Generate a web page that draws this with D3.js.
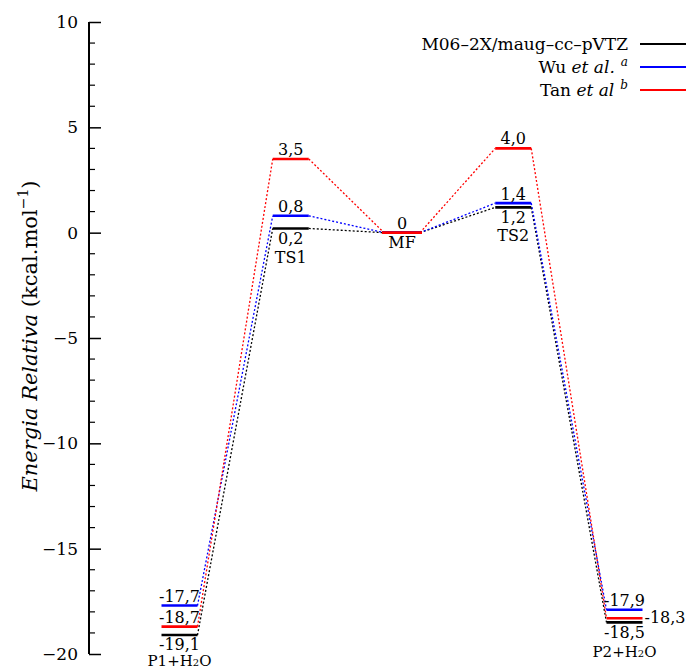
<!DOCTYPE html>
<html>
<head>
<meta charset="utf-8">
<script src="https://cdn.jsdelivr.net/npm/d3@7"></script>
<style>
  body { margin: 0; background: #fff; }
  svg text { font-family: "DejaVu Serif", "Liberation Serif", serif; fill: #000; }
</style>
</head>
<body>
<div id="chart"></div>
<script>
// states along the reaction path
let states = ["P1", "TS1", "MF", "TS2", "P2"];
let methods = ["M06-2X/maug-cc-pVTZ", "Wu et al.", "Tan et al"];
let colors = ["#000000", "#0000ff", "#ff0000"];

let eBlack = [-19.1, 0.2, 0, 1.2, -18.5];
let eBlue = [-17.7, 0.8, 0, 1.4, -17.9];
let eRed = [-18.7, 3.5, 0, 4.0, -18.3];

let yTicks = [-20, -15, -10, -5, 0, 5, 10];

let width = 686, height = 669;

let svg = d3.select("#chart").append("svg").attr("width", width).attr("height", height);

let yScale = d3.scaleLinear().domain([-20, 10]).range([654, 22]);
let xScale = d3.scaleLinear().domain([0, 4]).range([179.5, 624.5]);
let halfW = 18;

// y axis, ticks pointing inward
let axisX = 89;
let yAxis = d3.axisRight(yScale).tickValues(yTicks).tickSize(12).tickFormat("");
let axisG = svg.append("g").attr("transform", "translate(" + axisX + ",0)").call(yAxis);
axisG.select(".domain").attr("d", "M0," + yScale(-20) + "V" + yScale(10)).attr("stroke-width", 2);
axisG.selectAll(".tick line").attr("stroke-width", 1.5);

let minor = d3.range(-20, 11).filter(v => v % 5 != 0);
svg.append("g").selectAll("line").data(minor).enter().append("line")
  .attr("x1", axisX).attr("x2", axisX + 6)
  .attr("y1", d => yScale(d)).attr("y2", d => yScale(d))
  .attr("stroke", "#000").attr("stroke-width", 1.2);

svg.append("g").selectAll("text").data(yTicks).enter().append("text")
  .attr("x", axisX - 11).attr("y", d => yScale(d) + 6)
  .attr("text-anchor", "end").attr("font-size", 17)
  .text(d => d < 0 ? "\u2212" + Math.abs(d) : d);

// y label
let yLab = svg.append("text")
  .attr("transform", "translate(37," + 336 + ")rotate(-90)")
  .attr("text-anchor", "middle").attr("font-size", 21);
yLab.append("tspan").attr("font-style", "italic").text("Energia Relativa");
yLab.append("tspan").text(" (kcal.mol");
yLab.append("tspan").attr("font-size", 14).attr("dy", -9).text("\u22121");
yLab.append("tspan").attr("dy", 9).text(")");

let series = [eBlack, eBlue, eRed];

// dotted connectors
series.forEach((e, k) => {
  for (let i = 0; i < e.length - 1; i++) {
    svg.append("line")
      .attr("x1", xScale(i) + halfW).attr("y1", yScale(e[i]))
      .attr("x2", xScale(i + 1) - halfW).attr("y2", yScale(e[i + 1]))
      .attr("stroke", colors[k]).attr("stroke-width", 1.3)
      .attr("stroke-dasharray", "2,2");
  }
});

// energy levels
series.forEach((e, k) => {
  svg.append("g").selectAll("line").data(e).enter().append("line")
    .attr("x1", (d, i) => xScale(i) - halfW - (i == 2 ? 2 : 0))
    .attr("x2", (d, i) => xScale(i) + halfW + (i == 2 ? 2 : 0))
    .attr("y1", d => yScale(d)).attr("y2", d => yScale(d))
    .attr("stroke", colors[k]).attr("stroke-width", 2.6);
});

let fmt = v => String(v.toFixed(1)).replace(".", ",");
let fs = 16;
function label(i, v, dy, txt, dx) {
  svg.append("text")
    .attr("x", xScale(i) + (dx || 0)).attr("y", yScale(v) + dy)
    .attr("text-anchor", dx ? "start" : "middle").attr("font-size", fs)
    .text(txt);
}

// P1
label(0, eBlue[0], -4, fmt(eBlue[0]));
label(0, eRed[0], -4, fmt(eRed[0]));
label(0, eBlack[0], 14.5, fmt(eBlack[0]));
// TS1
label(1, eRed[1], -4, fmt(eRed[1]));
label(1, eBlue[1], -4, fmt(eBlue[1]));
label(1, eBlack[1], 16, fmt(eBlack[1]));
label(1, eBlack[1], 35, states[1]);
// MF
label(2, eBlack[2], -4, "0");
label(2, eBlack[2], 15, states[2]);
// TS2
label(3, eRed[3], -4, fmt(eRed[3]));
label(3, eBlue[3], -3, fmt(eBlue[3]));
label(3, eBlack[3], 16, fmt(eBlack[3]));
label(3, eBlack[3], 34, states[3]);
// P2
label(4, eBlue[4], -4, fmt(eBlue[4]));
label(4, eRed[4], 5, fmt(eRed[4]), halfW + 2);
label(4, eBlack[4], 16, fmt(eBlack[4]));

// product labels with subscript
[[0, eBlack[0], 31], [4, eBlack[4], 35]].forEach(p => {
  let t = svg.append("text").attr("x", xScale(p[0])).attr("y", yScale(p[1]) + p[2])
    .attr("text-anchor", "middle").attr("font-size", 15);
  t.append("tspan").text(states[p[0]] + "+H");
  t.append("tspan").attr("font-size", 10).text("2");
  t.append("tspan").text("O");
});

// legend
let legY = [44, 67, 90];
let leg = svg.append("g");
legY.forEach((y, k) => {
  leg.append("line").attr("x1", 640).attr("x2", 686).attr("y1", y).attr("y2", y)
    .attr("stroke", colors[k]).attr("stroke-width", 2);
  let t = leg.append("text").attr("x", 628).attr("y", y + 6)
    .attr("text-anchor", "end").attr("font-size", 17);
  if (k == 0) {
    t.text(methods[0].replace(/-/g, "\u2013"));
  } else {
    let parts = methods[k].split(" ");
    t.append("tspan").text(parts[0] + " ");
    t.append("tspan").attr("font-style", "italic").text(parts.slice(1).join(" "));
    t.append("tspan").attr("font-style", "italic").attr("font-size", 12).attr("dx", 6).attr("dy", -7).text(k == 1 ? "a" : "b");
  }
});
</script>
</body>
</html>
